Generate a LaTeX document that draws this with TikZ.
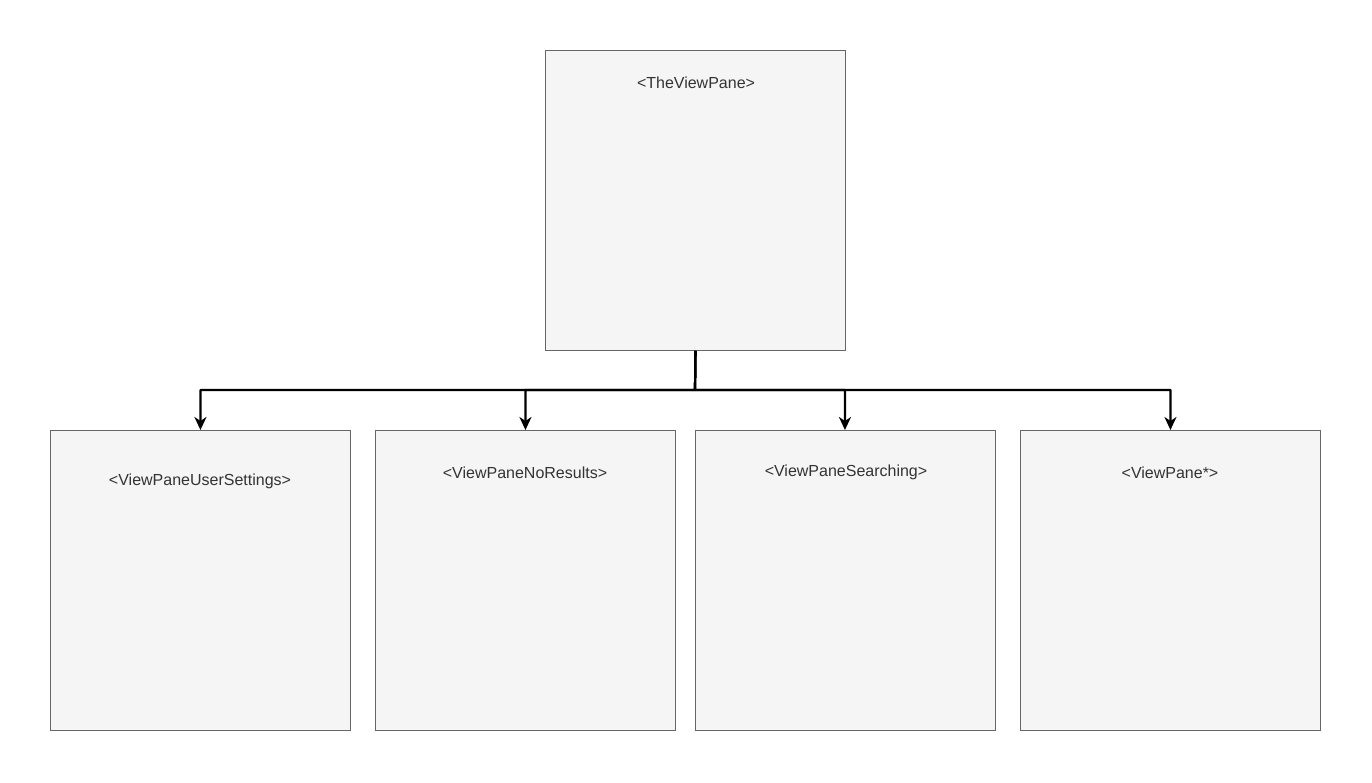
\documentclass[tikz,border=0pt]{standalone}
\usepackage{fontspec}
\setmainfont{Liberation Sans}
\usetikzlibrary{arrows.meta}
\definecolor{panefill}{HTML}{F5F5F5}
\definecolor{paneline}{HTML}{666666}
\definecolor{labeltext}{HTML}{333333}
\begin{document}
\begin{tikzpicture}[x=1pt,y=-1pt,
  pane/.style={draw=paneline,line width=0.9pt,fill=panefill,
    minimum width=300pt,minimum height=300pt,inner sep=0pt,anchor=north west},
  panelabel/.style={font=\fontsize{16pt}{19pt}\selectfont,text=labeltext,inner sep=0pt},
  link/.style={draw=black,line width=2.2pt,line join=round,
    -{Stealth[length=13pt,width=12pt,inset=4pt]}}]
\useasboundingbox[fill=white] (0,0) rectangle (1372,782);
% boxes
\node[pane] (top) at (545,50) {};
\node[pane] (b1) at (50,430) {};
\node[pane] (b2) at (375,430) {};
\node[pane] (b3) at (695,430) {};
\node[pane] (b4) at (1020,430) {};
% titles
\node[panelabel] (ttop) at (696,82.5) {<TheViewPane>};
\node[panelabel] (t1) at (200,481.5) {<ViewPaneUserSettings>};
\node[panelabel] (t2) at (525,472.5) {<ViewPaneNoResults>};
\node[panelabel] (t3) at (846,472.5) {<ViewPaneSearching>};
\node[panelabel] (t4) at (1170,472.5) {<ViewPane*>};
% tree connectors
\coordinate (bus) at (695,390);
\draw[link] (top.south) -- (bus) -| (b1.north);
\draw[link] (top.south) -- (bus) -| (b2.north);
\draw[link] (top.south) -- (bus) -| ([xshift=-0.5pt]b3.north);
\draw[link] (top.south) -- (bus) -| (b4.north);
\end{tikzpicture}
\end{document}
